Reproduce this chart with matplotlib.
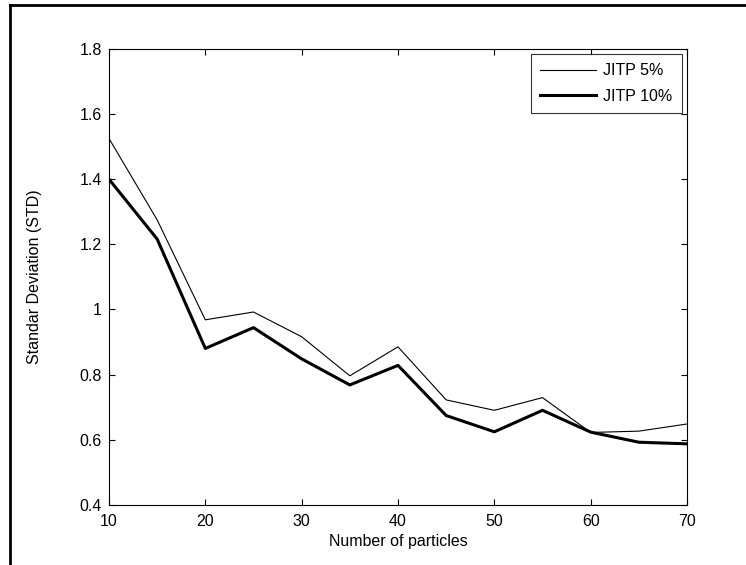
import matplotlib
matplotlib.use("Agg")
import matplotlib.pyplot as plt
from matplotlib.lines import Line2D

particles = [10, 15, 20, 25, 30, 35, 40, 45, 50, 55, 60, 65, 70]
jitp_5 = [1.525, 1.275, 0.968, 0.992, 0.916, 0.796, 0.885, 0.722, 0.690, 0.729, 0.622, 0.626, 0.648]
jitp_10 = [1.400, 1.216, 0.880, 0.944, 0.848, 0.768, 0.828, 0.674, 0.624, 0.690, 0.623, 0.592, 0.587]

plt.rcParams["font.family"] = ["Liberation Sans", "DejaVu Sans"]
plt.rcParams["font.size"] = 11.5

fig = plt.figure(figsize=(7.46, 5.65), dpi=100)
ax = fig.add_axes([0.1461, 0.1067, 0.7748, 0.8066])

ax.plot(particles, jitp_5, color="black", linewidth=0.8, label="JITP 5%")
ax.plot(particles, jitp_10, color="black", linewidth=2.2, label="JITP 10%")

ax.set_xlim(10, 70)
ax.set_ylim(0.4, 1.8)
ax.set_xticks(range(10, 71, 10))
ax.set_yticks([0.4, 0.6, 0.8, 1.0, 1.2, 1.4, 1.6, 1.8])
ax.set_yticklabels(["0.4", "0.6", "0.8", "1", "1.2", "1.4", "1.6", "1.8"])
ax.tick_params(direction="in", top=True, right=True, length=4, width=0.8)
ax.tick_params(axis="x", pad=7)
ax.tick_params(axis="y", pad=5)
for spine in ax.spines.values():
    spine.set_linewidth(0.8)

ax.set_xlabel("Number of particles", labelpad=3)
ax.set_ylabel("Standar Deviation (STD)", labelpad=27)

leg = ax.legend(loc="upper right", fancybox=False, edgecolor="black",
                borderaxespad=0.3, handlelength=3.5, handletextpad=0.45,
                labelspacing=0.65, borderpad=0.6)
leg.get_frame().set_linewidth(0.8)

# outer frame of the original figure
fig.add_artist(Line2D([0.0134, 0.0134], [0.0, 0.991], transform=fig.transFigure,
                      color="black", linewidth=2))
fig.add_artist(Line2D([0.0134, 1.0], [0.991, 0.991], transform=fig.transFigure,
                      color="black", linewidth=2))

fig.savefig("out.png", dpi=100)
